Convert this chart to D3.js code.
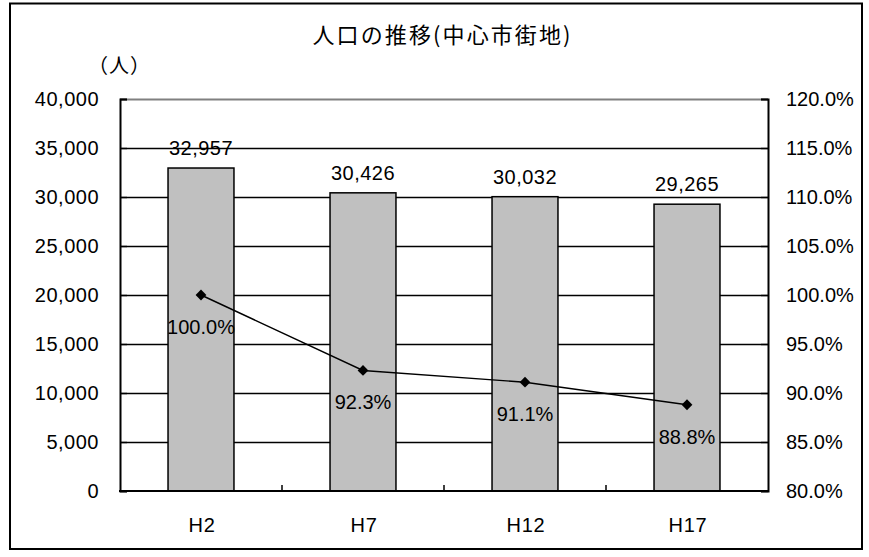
<!DOCTYPE html>
<html><head><meta charset="utf-8">
<script src="https://cdn.jsdelivr.net/npm/d3@7"></script>
<style>
html,body{margin:0;padding:0;background:#fff;}
text{font-family:"Liberation Sans",Arial,sans-serif;fill:#000;}
.cjk{font-family:"Noto Sans CJK JP",sans-serif;}
</style></head>
<body>
<svg id="chart" width="869" height="557"></svg>
<script>
const title = "人口の推移(中心市街地)";
const unitLabel = "（人）";
const categories = ["H2", "H7", "H12", "H17"];
const population = [32957, 30426, 30032, 29265];
const ratio = [1.000, 0.923, 0.911, 0.888];
const leftTicks = [0, 5000, 10000, 15000, 20000, 25000, 30000, 35000, 40000];
const rightTicks = [0.80, 0.85, 0.90, 0.95, 1.00, 1.05, 1.10, 1.15, 1.20];

const svg = d3.select("#chart");
const L = 120, R = 768, T = 99, B = 491;

svg.append("rect").attr("x", 10).attr("y", 3.5).attr("width", 852).attr("height", 545.5)
  .attr("fill", "#fff").attr("stroke", "#000").attr("stroke-width", 2);

const x = d3.scaleBand().domain(categories).range([L, R]).paddingInner(0.593).paddingOuter(0.2965);
const y = d3.scaleLinear().domain([0, 40000]).range([B, T]);
const y2 = d3.scaleLinear().domain([0.8, 1.2]).range([B, T]);
const fmt = d3.format(",");
const pct = d3.format(".1%");

// gridlines
svg.append("g").selectAll("line").data(leftTicks.filter(d => d > 0 && d < 40000)).join("line")
  .attr("x1", L).attr("x2", R).attr("y1", d => Math.round(y(d)) + 0.5).attr("y2", d => Math.round(y(d)) + 0.5)
  .attr("stroke", "#000").attr("stroke-width", 1.4);
// top border
svg.append("line").attr("x1", L).attr("x2", R).attr("y1", T + 0.5).attr("y2", T + 0.5)
  .attr("stroke", "#808080").attr("stroke-width", 2);

// bars
svg.append("g").selectAll("rect").data(population).join("rect")
  .attr("x", (d, i) => x(categories[i]))
  .attr("y", d => y(d))
  .attr("width", x.bandwidth())
  .attr("height", d => B - y(d))
  .attr("fill", "#c0c0c0").attr("stroke", "#000").attr("stroke-width", 1.5);

// axes
const leftAxis = d3.axisRight(y).tickValues(leftTicks).tickSize(7).tickFormat("");
const gl = svg.append("g").attr("transform", `translate(${L},0)`).call(leftAxis);
const rightAxis = d3.axisLeft(y2).tickValues(rightTicks).tickSize(7).tickFormat("");
const gr = svg.append("g").attr("transform", `translate(${R},0)`).call(rightAxis);
[gl, gr].forEach(g => {
  g.select(".domain").attr("stroke", "#000").attr("stroke-width", 2);
  g.selectAll(".tick line").attr("stroke", "#000").attr("stroke-width", 1.4);
});
// bottom axis with category boundary ticks
const xb = d3.scaleLinear().domain([0, 4]).range([L, R]);
svg.append("g").selectAll("line").data([1, 2, 3]).join("line")
  .attr("x1", d => xb(d)).attr("x2", d => xb(d)).attr("y1", B).attr("y2", B - 6)
  .attr("stroke", "#000").attr("stroke-width", 1.5);
svg.append("line").attr("x1", L - 1).attr("x2", R + 1).attr("y1", B).attr("y2", B)
  .attr("stroke", "#000").attr("stroke-width", 2);

// left tick labels
svg.append("g").selectAll("text").data(leftTicks).join("text")
  .attr("x", 99).attr("y", d => y(d) + 7).attr("text-anchor", "end")
  .style("font-size", "20px").style("letter-spacing", "0.5px")
  .text(d => fmt(d));
// right tick labels
svg.append("g").selectAll("text").data(rightTicks).join("text")
  .attr("x", 786).attr("y", d => y2(d) + 7).attr("text-anchor", "start")
  .style("font-size", "20px")
  .text(d => pct(d));
// category labels
svg.append("g").selectAll("text").data(categories).join("text")
  .attr("x", d => x(d) + x.bandwidth() / 2 + 1).attr("y", 532).attr("text-anchor", "middle")
  .style("font-size", "20px").style("letter-spacing", "0.8px")
  .text(d => d);

// bar value labels
svg.append("g").selectAll("text").data(population).join("text")
  .attr("x", (d, i) => x(categories[i]) + x.bandwidth() / 2).attr("y", d => y(d) - 13)
  .attr("text-anchor", "middle").style("font-size", "20px").style("letter-spacing", "0.5px")
  .text(d => fmt(d));

// line
const cx = i => x(categories[i]) + x.bandwidth() / 2;
svg.append("path").datum(ratio)
  .attr("d", d3.line().x((d, i) => cx(i)).y(d => y2(d)))
  .attr("fill", "none").attr("stroke", "#000").attr("stroke-width", 1.4);
svg.append("g").selectAll("path").data(ratio).join("path")
  .attr("transform", (d, i) => `translate(${cx(i)},${y2(d)}) rotate(45)`)
  .attr("d", d3.symbol().type(d3.symbolSquare).size(58))
  .attr("fill", "#000");
svg.append("g").selectAll("text").data(ratio).join("text")
  .attr("x", (d, i) => cx(i)).attr("y", d => y2(d) + 39)
  .attr("text-anchor", "middle").style("font-size", "20px")
  .text(d => pct(d));

// title and unit
svg.append("text").attr("class", "cjk").attr("x", 441.5).attr("y", 43)
  .attr("text-anchor", "middle").style("font-size", "22px")
  .attr("textLength", 258).attr("lengthAdjust", "spacing")
  .text(title);
svg.append("text").attr("class", "cjk").attr("x", 119.5).attr("y", 73)
  .attr("text-anchor", "middle").style("font-size", "20px").style("letter-spacing", "1px")
  .text(unitLabel);
</script>
</body></html>
